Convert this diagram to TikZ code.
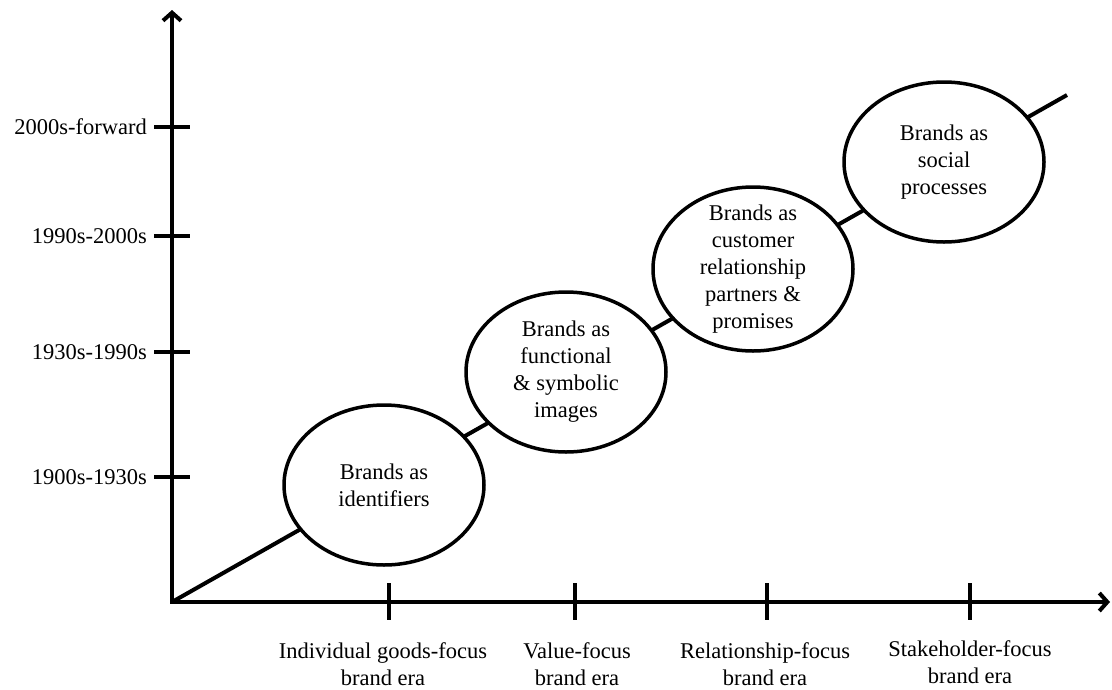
\documentclass[tikz,border=0pt]{standalone}
\usepackage{fontspec}
\setmainfont{Liberation Serif}
\usetikzlibrary{arrows.meta,shapes.geometric}
\begin{document}
\begin{tikzpicture}[x=1pt,y=-1pt,
  axis/.style={line width=4pt,{Straight Barb[length=8pt,width=18pt]}-{Straight Barb[length=8pt,width=18pt]}},
  tickmark/.style={line width=4pt},
  diag/.style={line width=4pt},
  txt/.style={font=\fontsize{22.5}{27}\selectfont},
  era/.style={ellipse,draw,fill=white,line width=3.5pt,inner sep=-40pt,
    minimum width=200pt,minimum height=160pt,align=center,txt},
  lbl/.style={txt,inner sep=0pt,align=center},
]
\useasboundingbox (0,0) rectangle (1112,689);
\coordinate (O) at (172,602);
\coordinate (ytop) at (172,10);
\coordinate (xend) at (1110,602);
\coordinate (dend) at (1067,95);
% axes
\draw[axis] (ytop) -- (O) -- (xend);
% y ticks and labels
\foreach \yy/\name/\t in {477/y1/1900s-1930s,352/y2/1930s-1990s,236/y3/1990s-2000s,127/y4/2000s-forward}{
  \draw[tickmark] (154,\yy) -- (190,\yy);
  \node[lbl,anchor=east] (\name) at (147,\yy) {\t};
}
% x ticks
\foreach \xx in {389,575,767,970}{
  \draw[tickmark] (\xx,583) -- (\xx,620);
}
\node[lbl,anchor=north] (x1) at (383,642) {Individual goods-focus\\brand era};
\node[lbl,anchor=north] (x2) at (577,642) {Value-focus\\brand era};
\node[lbl,anchor=north] (x3) at (765,642) {Relationship-focus\\brand era};
\node[lbl,anchor=north] (x4) at (970,640) {Stakeholder-focus\\brand era};
% diagonal
\draw[diag] (O) -- (dend);
% ellipses
\node[era] (e1) at (384,485) {Brands as\\identifiers};
\node[era] (e2) at (566,372) {Brands as\\functional\\\& symbolic\\images};
\node[era,minimum height=164pt] (e3) at (753,269) {Brands as\\customer\\relationship\\partners \&\\promises};
\node[era] (e4) at (944,162) {Brands as\\social\\processes};
\end{tikzpicture}
\end{document}
